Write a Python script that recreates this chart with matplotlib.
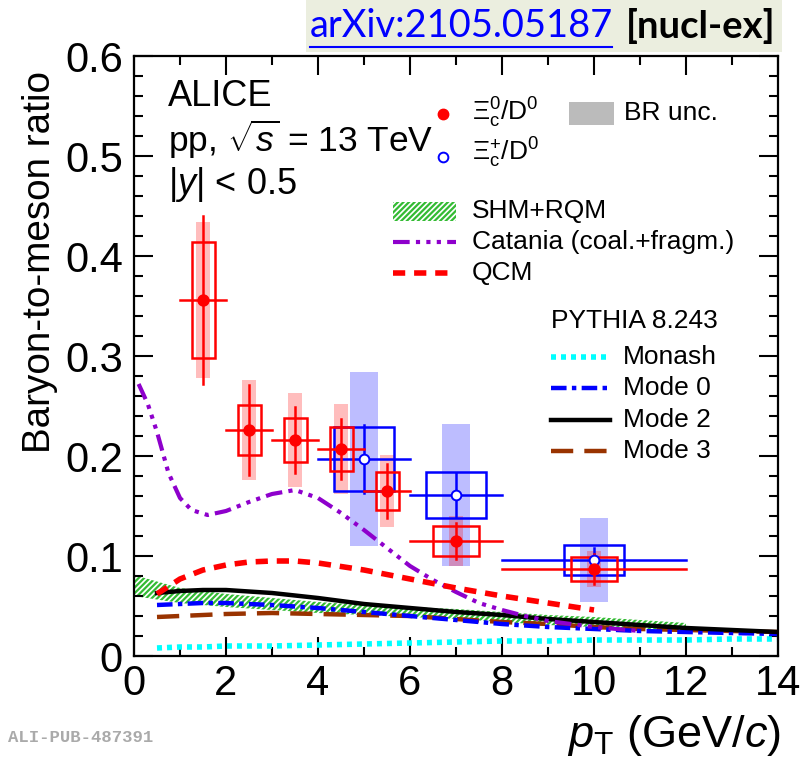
import numpy as np
import matplotlib
matplotlib.use("Agg")
import matplotlib.pyplot as plt
from matplotlib.patches import Rectangle
from matplotlib.lines import Line2D
from matplotlib.ticker import MultipleLocator

# ---------------- data ----------------
# Xi_c0 / D0 (red, filled)
xi0_lo = [1, 2, 3, 4, 5, 6, 8]
xi0_hi = [2, 3, 4, 5, 6, 8, 12]
xi0_val = [0.356, 0.226, 0.216, 0.207, 0.165, 0.115, 0.087]
xi0_stat = [0.084, 0.045, 0.033, 0.030, 0.027, 0.018, 0.015]
xi0_syst = [0.058, 0.025, 0.022, 0.022, 0.019, 0.015, 0.012]
xi0_br = [0.078, 0.050, 0.047, 0.045, 0.036, 0.025, 0.018]

# Xi_c+ / D0 (blue, open)
xip_lo = [4, 6, 8]
xip_hi = [6, 8, 12]
xip_val = [0.197, 0.161, 0.096]
xip_stat = [0.034, 0.022, 0.012]
xip_syst = [0.032, 0.023, 0.015]
xip_br = [0.087, 0.071, 0.042]

# Catania (coal.+fragm.)
cat_x = [0.1, 0.3, 0.5, 0.75, 1.0, 1.25, 1.6, 2.0, 2.5, 3.0, 3.5, 4.0, 4.5, 5.0,
         5.5, 6.0, 6.5, 7.0, 7.5, 8.0, 8.5, 9.0, 9.5, 10.0, 10.5, 11.0]
cat_y = [0.272, 0.252, 0.224, 0.183, 0.158, 0.146, 0.141, 0.145, 0.154, 0.162,
         0.166, 0.158, 0.143, 0.126, 0.108, 0.090, 0.076, 0.064, 0.053, 0.046,
         0.040, 0.035, 0.032, 0.029, 0.027, 0.025]

# QCM
qcm_x = [0.5, 1.0, 1.5, 2.0, 2.5, 3.0, 3.5, 4.0, 5.0, 6.0, 7.0, 8.0, 9.0, 10.0]
qcm_y = [0.062, 0.077, 0.086, 0.091, 0.094, 0.095, 0.095, 0.093, 0.086, 0.077,
         0.068, 0.060, 0.053, 0.046]

# PYTHIA 8.243
py_x = [0.5, 1, 1.5, 2, 3, 4, 5, 6, 7, 8, 9, 10, 11, 12, 13, 14]
monash_y = [0.008, 0.009, 0.009, 0.010, 0.010, 0.011, 0.012, 0.013, 0.014, 0.015,
            0.015, 0.016, 0.016, 0.016, 0.017, 0.017]
mode0_y = [0.051, 0.052, 0.053, 0.053, 0.051, 0.048, 0.044, 0.040, 0.036, 0.032,
           0.029, 0.027, 0.025, 0.024, 0.023, 0.022]
mode2_y = [0.063, 0.065, 0.066, 0.066, 0.063, 0.058, 0.052, 0.048, 0.044, 0.041,
           0.037, 0.034, 0.031, 0.028, 0.026, 0.024]
mode3_y = [0.039, 0.040, 0.041, 0.042, 0.043, 0.042, 0.041, 0.040, 0.037, 0.034,
           0.032, 0.029, 0.027, 0.026, 0.025, 0.024]

# SHM+RQM band
shm_x = [0, 1, 2, 3, 4, 5, 6, 7, 8, 9, 10, 11, 12]
shm_lo = [0.060, 0.053, 0.049, 0.046, 0.043, 0.041, 0.039, 0.037, 0.034, 0.031,
          0.029, 0.027, 0.026]
shm_hi = [0.081, 0.068, 0.062, 0.058, 0.054, 0.051, 0.049, 0.047, 0.044, 0.041,
          0.039, 0.036, 0.033]

x_ticks = [0, 2, 4, 6, 8, 10, 12, 14]
y_ticks = [0, 0.1, 0.2, 0.3, 0.4, 0.5, 0.6]
y_ticklabels = ['0', '0.1', '0.2', '0.3', '0.4', '0.5', '0.6']

# ---------------- style ----------------
plt.rcParams['font.family'] = ['Liberation Sans', 'DejaVu Sans']
plt.rcParams['mathtext.fontset'] = 'custom'
plt.rcParams['mathtext.rm'] = 'Liberation Sans'
plt.rcParams['mathtext.it'] = 'Liberation Sans:italic'
plt.rcParams['mathtext.bf'] = 'Liberation Sans:bold'
plt.rcParams['hatch.linewidth'] = 1.6

W, H = 806, 772
fig = plt.figure(figsize=(W / 100, H / 100), dpi=100)
ax = fig.add_axes([134 / W, 116 / H, 644 / W, 600 / H])

RED = '#FF0000'
BLUE = '#0000FF'
PURPLE = '#8E00CC'
GREEN = '#33BB33'

ax.set_xlim(0, 14)
ax.set_ylim(0, 0.6)

# SHM band (hatched)
ax.fill_between(shm_x, shm_lo, shm_hi, facecolor='none', edgecolor=GREEN,
                hatch='//////', linewidth=0, zorder=1)

# BR shaded boxes
def br_boxes(lo, hi, val, br, hw, color):
    for l, h, v, b in zip(lo, hi, val, br):
        c = 0.5 * (l + h)
        ax.add_patch(Rectangle((c - hw, v - b), 2 * hw, 2 * b, facecolor=color,
                               edgecolor='none', alpha=0.26, zorder=1.5))

br_boxes(xip_lo, xip_hi, xip_val, xip_br, 0.3, BLUE)
br_boxes(xi0_lo, xi0_hi, xi0_val, xi0_br, 0.15, RED)

# model curves
LS_MON = (0, (0.9, 0.9))
LS_M3 = (0, (5, 2.5))
LS_M0 = (0, (3.5, 1.2, 1, 1.2))
LS_CAT = (0, (4, 1.5, 1, 1.5, 1, 1.5, 1, 1.5))
LS_QCM = (0, (2.2, 1.6))
ax.plot(py_x, monash_y, color='#00FFFF', lw=4, ls=LS_MON, zorder=2)
ax.plot(py_x, mode3_y, color='#993300', lw=3.2, ls=LS_M3, zorder=2)
ax.plot(py_x, mode0_y, color=BLUE, lw=3.2, ls=LS_M0, zorder=2)
ax.plot(py_x, mode2_y, color='black', lw=3.2, zorder=2)
ax.plot(cat_x, cat_y, color=PURPLE, lw=3.0, ls=LS_CAT, zorder=2)
ax.plot(qcm_x, qcm_y, color=RED, lw=4, ls=LS_QCM, zorder=2)

# data points
def draw_points(lo, hi, val, stat, syst, color, filled, box_hw):
    for l, h, v, s, sy in zip(lo, hi, val, stat, syst):
        c = 0.5 * (l + h)
        hw = box_hw(h - l)
        ax.add_patch(Rectangle((c - hw, v - sy), 2 * hw, 2 * sy, facecolor='none',
                               edgecolor=color, lw=1.8, zorder=3))
        ax.plot([l, h], [v, v], color=color, lw=1.8, zorder=3)
        ax.plot([c, c], [v - s, v + s], color=color, lw=1.8, zorder=3)
    cx = [0.5 * (l + h) for l, h in zip(lo, hi)]
    ax.plot(cx, val, 'o', ms=7.5 if filled else 7, mfc=color if filled else 'white',
            mec=color, mew=1.4, ls='none', zorder=4)

draw_points(xip_lo, xip_hi, xip_val, xip_stat, xip_syst, BLUE, False, lambda w: 0.65)
draw_points(xi0_lo, xi0_hi, xi0_val, xi0_stat, xi0_syst, RED, True,
            lambda w: min(0.25 * w, 0.5))

# axes style
ax.set_xticks(x_ticks)
ax.set_xticklabels([str(v) for v in x_ticks])
ax.set_yticks(y_ticks)
ax.set_yticklabels(y_ticklabels)
ax.xaxis.set_minor_locator(MultipleLocator(1))
ax.yaxis.set_minor_locator(MultipleLocator(0.02))
ax.tick_params(which='both', direction='in', top=True, right=True, width=1.5,
               labelsize=30)
ax.tick_params(which='major', length=13.5)
ax.tick_params(which='minor', length=6.5)
ax.tick_params(axis='x', pad=6)
ax.tick_params(axis='y', pad=8)
for sp in ax.spines.values():
    sp.set_linewidth(1.6)

def fp(x, y):
    return (x / W, 1 - y / H)

fig.text(*fp(40, 262), 'Baryon-to-meson ratio', rotation=90, ha='center',
         va='center', fontsize=27.8)
fig.text(*fp(781, 735), r'$p_{\rm T}$ (GeV/$c$)', ha='right', va='center',
         fontsize=32.5)

# ALICE labels
fig.text(*fp(168, 97), 'ALICE', ha='left', va='center', fontsize=26)
fig.text(*fp(168, 139), r'pp, $\sqrt{s}$ = 13 TeV', ha='left', va='center', fontsize=25.5)
fig.text(*fp(168, 185), r'|$y$| < 0.5', ha='left', va='center', fontsize=26)

# legend (manual)
LS = 19
fig.add_artist(Line2D([443 / W], [1 - 114 / H], marker='o', ms=7.5, mfc=RED,
                      mec=RED, transform=fig.transFigure))
fig.add_artist(Line2D([443 / W], [1 - 157 / H], marker='o', ms=7, mfc='white',
                      mec=BLUE, mew=1.4, transform=fig.transFigure))
fig.text(*fp(472, 113), 'Ξ$_{\\rm c}^{0}$/D$^{0}$', ha='left', va='center', fontsize=LS)
fig.text(*fp(472, 153), 'Ξ$_{\\rm c}^{+}$/D$^{0}$', ha='left', va='center', fontsize=LS)
fig.add_artist(Rectangle(fp(569, 125), 45 / W, 23 / H, facecolor='#BBBBBB',
                         edgecolor='none', transform=fig.transFigure))
fig.text(*fp(624, 113), 'BR unc.', ha='left', va='center', fontsize=LS)

fig.add_artist(Rectangle(fp(393, 221), 63 / W, 19 / H, facecolor='none',
                         edgecolor=GREEN, hatch='//////', lw=0,
                         transform=fig.transFigure))
fig.text(*fp(472, 211), 'SHM+RQM', ha='left', va='center', fontsize=LS)
fig.add_artist(Line2D([393 / W, 456 / W], [1 - 242 / H] * 2, color=PURPLE, lw=3.0,
                      ls=LS_CAT, transform=fig.transFigure))
fig.text(*fp(472, 242), 'Catania (coal.+fragm.)', ha='left', va='center', fontsize=LS)
fig.add_artist(Line2D([393 / W, 456 / W], [1 - 273 / H] * 2, color=RED, lw=4,
                      ls=LS_QCM, transform=fig.transFigure))
fig.text(*fp(472, 273), 'QCM', ha='left', va='center', fontsize=LS)

fig.text(*fp(551, 321), 'PYTHIA 8.243', ha='left', va='center', fontsize=LS)
leg_py = [('Monash', '#00FFFF', 4, LS_MON, 357),
          ('Mode 0', BLUE, 3.2, LS_M0, 388),
          ('Mode 2', 'black', 3.2, '-', 420),
          ('Mode 3', '#993300', 3.2, LS_M3, 451)]
for name, col, lw, ls, yy in leg_py:
    fig.add_artist(Line2D([551 / W, 610 / W], [1 - yy / H] * 2, color=col, lw=lw,
                          ls=ls, transform=fig.transFigure))
    fig.text(*fp(623, yy), name, ha='left', va='center', fontsize=LS)

# arXiv header
fig.add_artist(Rectangle(fp(306, 52), 476 / W, 52 / H, facecolor='#EBEEDF',
                         edgecolor='none', transform=fig.transFigure, zorder=0))
fig.text(*fp(310, 26), 'arXiv:2105.05187', ha='left', va='center', fontsize=27.4,
         color=BLUE, family=['Lato', 'DejaVu Sans'])
fig.add_artist(Line2D([310 / W, 612 / W], [1 - 47 / H] * 2, color=BLUE, lw=1.5,
                      transform=fig.transFigure))
fig.text(*fp(626, 26), '[nucl-ex]', ha='left', va='center', fontsize=27.5,
         fontweight='bold', color='black', family=['Lato', 'DejaVu Sans'])

fig.text(*fp(8, 737), 'ALI-PUB-487391', ha='left', va='center', fontsize=12.4,
         color='#AAAAAA', fontweight='bold', family=['Liberation Mono', 'DejaVu Sans Mono'])

fig.savefig('out.png', dpi=100)
